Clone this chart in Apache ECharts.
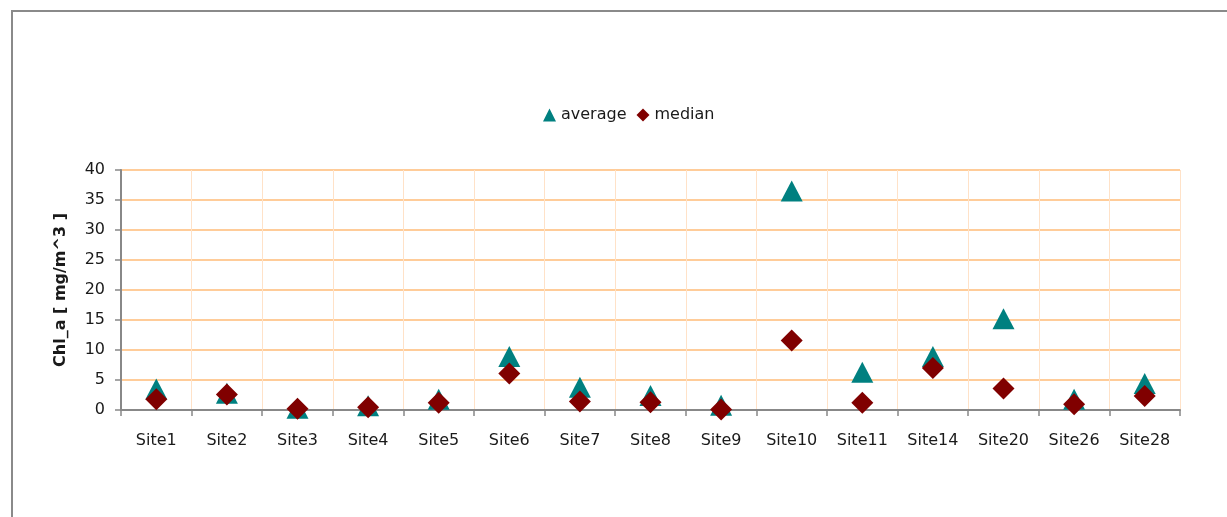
<!DOCTYPE html>
<html>
<head>
<meta charset="utf-8">
<script src="https://cdn.jsdelivr.net/npm/echarts@6/dist/echarts.min.js"></script>
<style>
html,body{margin:0;padding:0;background:#fff;}
#frame{position:absolute;left:11px;top:10px;width:1240px;height:540px;border-left:2px solid #8a8a8a;border-top:2px solid #8a8a8a;box-sizing:border-box;}
#chart{position:absolute;left:0;top:0;width:1227px;height:517px;}
</style>
</head>
<body>
<div id="frame"></div>
<div id="chart"></div>
<script>
const categories = ['Site1','Site2','Site3','Site4','Site5','Site6','Site7','Site8','Site9','Site10','Site11','Site14','Site20','Site26','Site28'];
const averageValues = [3.5, 2.8, 0.3, 0.7, 1.8, 8.9, 3.8, 2.4, 0.8, 36.5, 6.3, 8.9, 15.2, 1.8, 4.4];
const medianValues = [1.8, 2.6, 0.2, 0.45, 1.2, 6.1, 1.4, 1.3, 0.1, 11.6, 1.2, 7.0, 3.6, 0.95, 2.35];
const yTicks = {min: 0, max: 40, interval: 5};
const yTitle = 'Chl_a [ mg/m^3 ]';

const chart = echarts.init(document.getElementById('chart'), null, {renderer: 'canvas'});
const font = 'DejaVu Sans';
chart.setOption({
  animation: false,
  backgroundColor: 'transparent',
  textStyle: {fontFamily: font},
  legend: {
    left: 538, top: 102,
    itemWidth: 13, itemHeight: 13, itemGap: 10,
    textStyle: {fontFamily: font, fontSize: 16, color: '#1a1a1a'},
    data: [
      {name: 'average', icon: 'triangle', itemStyle: {color: '#008080'}},
      {name: 'median', icon: 'diamond', itemStyle: {color: '#800000'}}
    ]
  },
  grid: {left: 121, right: 47, top: 170, bottom: 107, containLabel: false},
  xAxis: {
    type: 'category',
    data: categories,
    boundaryGap: true,
    axisLine: {lineStyle: {color: '#888', width: 2}},
    axisTick: {show: true, length: 6, lineStyle: {color: '#888', width: 1.5}},
    axisLabel: {fontFamily: font, fontSize: 16, color: '#1a1a1a', margin: 23, interval: 0},
    splitLine: {show: true, interval: 0, lineStyle: {color: '#ffe2c8', width: 1}}
  },
  yAxis: {
    type: 'value',
    min: yTicks.min, max: yTicks.max, interval: yTicks.interval,
    name: yTitle,
    nameLocation: 'middle',
    nameGap: 52,
    nameTextStyle: {fontFamily: font, fontSize: 16, fontWeight: 'bold', color: '#1a1a1a'},
    axisLine: {show: true, lineStyle: {color: '#888', width: 2}},
    axisTick: {show: true, length: 6, lineStyle: {color: '#888', width: 1.5}},
    axisLabel: {fontFamily: font, fontSize: 16, color: '#1a1a1a', margin: 16},
    splitLine: {show: true, lineStyle: {color: '#ffcc99', width: 2}}
  },
  series: [
    {
      name: 'average', type: 'scatter', symbol: 'triangle', symbolSize: [22, 21],
      itemStyle: {color: '#008080', opacity: 1}, data: averageValues, z: 2
    },
    {
      name: 'median', type: 'scatter', symbol: 'diamond', symbolSize: [22, 22],
      itemStyle: {color: '#800000', opacity: 1}, data: medianValues, z: 3
    }
  ]
});
</script>
</body>
</html>
